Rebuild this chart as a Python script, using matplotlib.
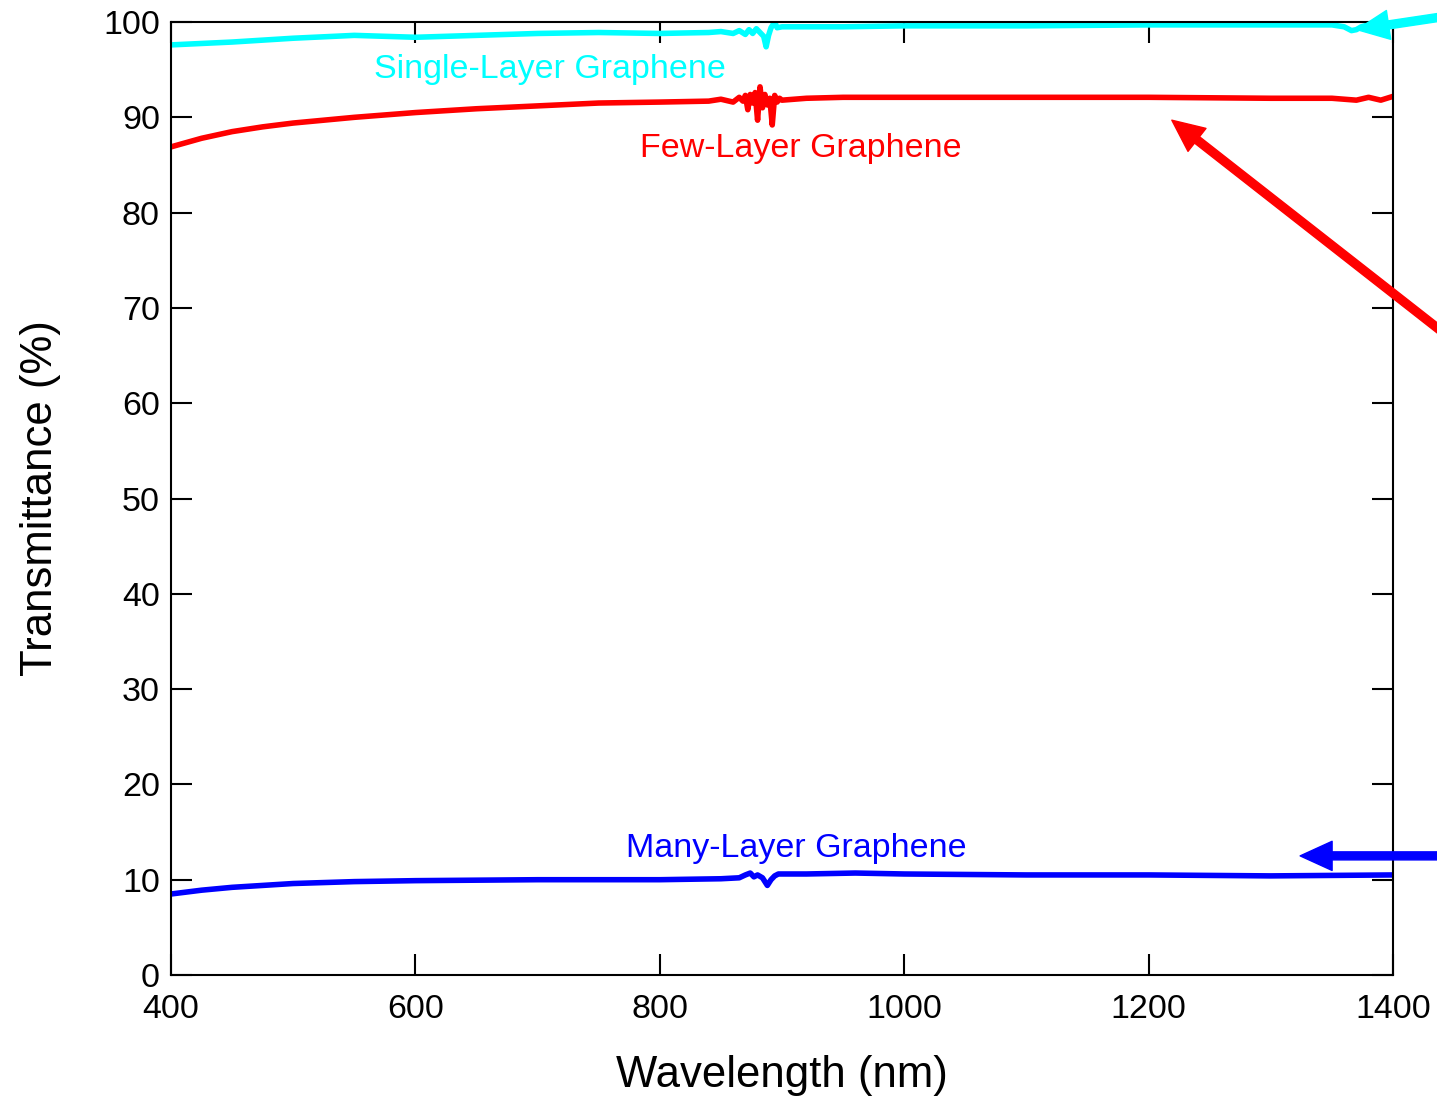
import matplotlib
matplotlib.use("Agg")
import matplotlib.pyplot as plt

plt.rcParams['font.family'] = ['Liberation Sans', 'DejaVu Sans']

# single-layer graphene (cyan)
wl_single = [400, 450, 500, 550, 600, 650, 700, 750, 800, 840, 850, 860, 865, 870,
             873, 876, 879, 882, 885, 887, 889, 891, 894, 896, 900, 950, 1000, 1100,
             1200, 1300, 1350, 1360, 1366, 1370, 1374, 1380, 1390, 1400]
t_single = [97.6, 97.9, 98.3, 98.6, 98.4, 98.6, 98.8, 98.9, 98.8, 98.9, 99.0, 98.8,
            99.1, 98.7, 99.2, 98.8, 99.3, 98.9, 98.5, 97.4, 98.6, 99.4, 100.0, 99.4,
            99.5, 99.5, 99.6, 99.6, 99.7, 99.7, 99.7, 99.5, 99.1, 99.2, 99.5, 99.7,
            99.8, 99.8]

# few-layer graphene (red)
wl_few = [400, 425, 450, 475, 500, 550, 600, 650, 700, 750, 800, 840, 850, 860, 865,
          868, 870, 872, 874, 876, 878, 880, 882, 884, 886, 888, 890, 892, 894, 896,
          898, 900, 920, 950, 1000, 1100, 1200, 1300, 1350, 1370, 1380, 1390, 1400]
t_few = [86.9, 87.8, 88.5, 89.0, 89.4, 90.0, 90.5, 90.9, 91.2, 91.5, 91.6, 91.7, 91.9,
         91.6, 92.1, 91.7, 92.3, 90.8, 92.4, 91.5, 92.6, 89.7, 93.2, 91.0, 92.4, 91.3,
         92.0, 89.2, 92.3, 91.6, 92.0, 91.8, 92.0, 92.1, 92.1, 92.1, 92.1, 92.0, 92.0,
         91.8, 92.1, 91.8, 92.2]

# many-layer graphene (blue)
wl_many = [400, 425, 450, 500, 550, 600, 700, 800, 850, 865, 870, 874, 877, 880, 884,
           888, 891, 894, 897, 920, 960, 1000, 1100, 1200, 1300, 1400]
t_many = [8.5, 8.9, 9.2, 9.6, 9.8, 9.9, 10.0, 10.0, 10.1, 10.2, 10.5, 10.7, 10.3, 10.5,
          10.2, 9.4, 10.0, 10.4, 10.6, 10.6, 10.7, 10.6, 10.5, 10.5, 10.4, 10.5]

x_ticks = [400, 600, 800, 1000, 1200, 1400]
y_ticks = [0, 10, 20, 30, 40, 50, 60, 70, 80, 90, 100]

fig = plt.figure(figsize=(14.37, 10.96), dpi=100)
ax = fig.add_axes([0.119, 0.1104, 0.8504, 0.8695])

ax.plot(wl_single, t_single, color='#00FFFF', lw=4.0, solid_joinstyle='round')
ax.plot(wl_few, t_few, color='#FF0000', lw=4.0, solid_joinstyle='round')
ax.plot(wl_many, t_many, color='#0000FF', lw=4.0, solid_joinstyle='round')

ax.set_xlim(400, 1400)
ax.set_ylim(0, 100)
ax.set_xticks(x_ticks)
ax.set_yticks(y_ticks)
ax.tick_params(direction='in', length=15, width=1.5, top=True, right=True,
               labelsize=24.5)
ax.tick_params(axis='x', pad=14)
ax.tick_params(axis='y', pad=8)
for s in ax.spines.values():
    s.set_linewidth(1.5)

ax.set_xlabel('Wavelength (nm)', fontsize=31.5, labelpad=21)
ax.set_ylabel('Transmittance (%)', fontsize=31.5, labelpad=30)

ax.text(710, 95.0, 'Single-Layer Graphene', color='#00FFFF', fontsize=24.5,
        ha='center', va='center')
ax.text(915, 86.7, 'Few-Layer Graphene', color='#FF0000', fontsize=24.5,
        ha='center', va='center')
ax.text(912, 13.3, 'Many-Layer Graphene', color='#0000FF', fontsize=24.5,
        ha='center', va='center')

arrow_kw = dict(width=5.8, headwidth=21, headlength=23, shrink=0)
ax.annotate('', xy=(1370.5, 99.2), xytext=(1490, 101.5),
            arrowprops=dict(color='#00FFFF', **arrow_kw), annotation_clip=False)
ax.annotate('', xy=(1219, 89.7), xytext=(1490, 62.5),
            arrowprops=dict(color='#FF0000', **arrow_kw), annotation_clip=False)
ax.annotate('', xy=(1324, 12.5), xytext=(1490, 12.5),
            arrowprops=dict(color='#0000FF', **arrow_kw), annotation_clip=False)

fig.savefig('out.png', dpi=100)
